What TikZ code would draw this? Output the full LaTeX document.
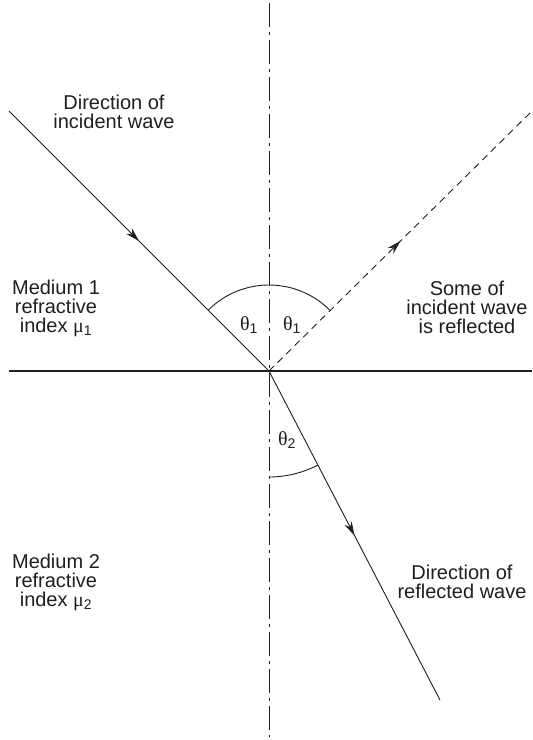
\documentclass[tikz,border=0pt]{standalone}
\usepackage{fontspec}
\setmainfont{Liberation Sans}
\newfontfamily\grk{Liberation Serif}
\usetikzlibrary{arrows.meta, decorations.markings}

\newcommand{\gth}{{\grk θ}}
\newcommand{\gmu}{{\grk μ}}

\begin{document}
\begin{tikzpicture}[>=Stealth, x=1pt, y=-1pt, line width=0.9pt, black!88,
  lbl/.style={align=center, inner sep=0pt, font=\fontsize{20}{19}\selectfont},
  ang/.style={inner sep=0pt, font=\fontsize{20}{19}\selectfont},
  midarrow/.style={postaction={decorate}, decoration={markings,
    mark=at position #1 with {\arrow{Stealth[length=14pt,width=8pt]}}}},
  midarrow/.default=0.5]
  \useasboundingbox (0,0) rectangle (533,740);
  \coordinate (O) at (269,371);
  \coordinate (top) at (269,3);
  \coordinate (bot) at (269,737);
  \coordinate (west) at (9,371);
  \coordinate (east) at (532,371);
  \coordinate (src) at (9,111);
  \coordinate (rfl) at (532,111);
  \coordinate (rfr) at (440,700);
  % Normal (dash-dot)
  \draw[dash pattern=on 24pt off 5pt on 3pt off 5pt] (top) -- (bot);
  % Interface between the media
  \draw[line width=1.2pt] (west) -- (east);
  % Incident, reflected and refracted rays
  \draw[midarrow] (src) -- (O);
  \draw[dash pattern=on 7pt off 5pt, midarrow] (O) -- (rfl);
  \draw[midarrow] (O) -- (rfr);
  % Angle arcs
  \draw (O) ++(225:86) arc[start angle=225, end angle=315, radius=86];
  \draw (O) ++(90:106) arc[start angle=90, end angle=62.5, radius=106];
  % Angle labels
  \node[ang] (th1l) at (249,325) {\gth\textsubscript{1}};
  \node[ang] (th1r) at (292,325) {\gth\textsubscript{1}};
  \node[ang] (th2) at (287,440) {\gth\textsubscript{2}};
  % Text labels
  \node[lbl] (incl) at (114,112) {Direction of\\incident wave};
  \node[lbl] (med1) at (56,308) {Medium 1\\refractive\\index \gmu\textsubscript{1}};
  \node[lbl] (refl) at (467,307) {Some of\\incident wave\\is reflected};
  \node[lbl] (med2) at (56,582) {Medium 2\\refractive\\index \gmu\textsubscript{2}};
  \node[lbl] (rfrl) at (462,582) {Direction of\\reflected wave};
\end{tikzpicture}
\end{document}
